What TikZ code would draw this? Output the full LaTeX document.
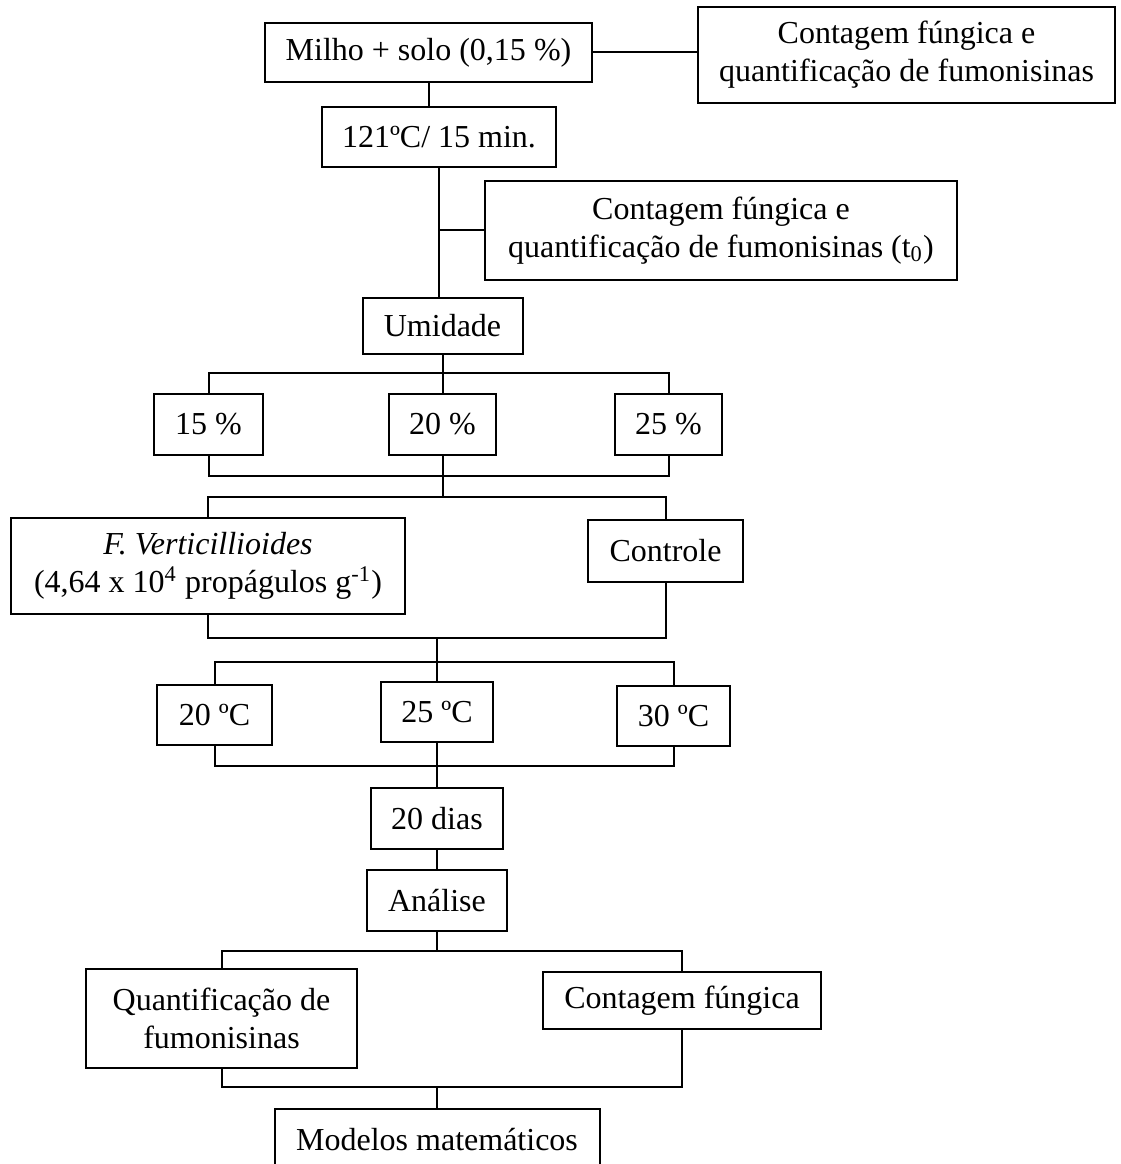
\documentclass[tikz,border=0pt]{standalone}
\usepackage{fontspec}
\setmainfont{Liberation Serif}
\usetikzlibrary{positioning}

\begin{document}
\begin{tikzpicture}[x=0.4pt, y=-0.4pt,
        box/.style={draw, line width=0.8pt, inner sep=0pt, align=center,
            font=\fontsize{12.8}{15.2}\selectfont},
        sz/.style 2 args={minimum width=#1*0.4pt, minimum height=#2*0.4pt},
        link/.style={line width=0.8pt}]
        \useasboundingbox (0,0) rectangle (1120,1164);
        \clip (0,0) rectangle (1120,1164);

        % Top: sample and sterilisation
        \node[box, sz={327}{59}] (milho) at (428.5,52.5) {Milho + solo (0,15 \%)};
        \node[box, sz={417}{96}] (cont1) at (906.5,55) {Contagem fúngica e\\quantificação de fumonisinas};
        \node[box, sz={234}{60}] (auto) at (439,137) {121ºC/ 15 min.};
        \node[box, sz={472}{99}] (cont0) at (721,230.5) {Contagem fúngica e\\quantificação de fumonisinas (t\textsubscript{0})};
        \node[box, sz={160}{56}] (umidade) at (442.5,326) {Umidade};

        \draw[link] (milho.east) -- (milho.east -| cont1.west);
        \draw[link] (milho.south) -- (milho.south |- auto.north);
        \draw[link] (auto.south) -- (auto.south |- umidade.north);
        \draw[link] (cont0.west) -- (cont0.west -| auto.south);

        % Moisture levels
        \node[box, sz={109}{61}] (u15) at (208.5,424.5) {15 \%};
        \node[box, sz={107}{61}] (u20) at (442.5,424.5) {20 \%};
        \node[box, sz={107}{61}] (u25) at (668.5,424.5) {25 \%};
        \coordinate (j1) at (442.5,373);
        \coordinate (j2) at (442.5,476);
        \draw[link] (umidade.south) -- (j1) -- (u20.north);
        \draw[link] (u15.north) |- (j1) -| (u25.north);
        \draw[link] (u15.south) |- (j2) -| (u25.south);
        \draw[link] (u20.south) -- (j2);

        % Inoculation
        \node[box, sz={394}{96}] (fvert) at (208,566) {\textit{F. Verticillioides}\\(4,64 x 10\textsuperscript{4} propágulos g\textsuperscript{-1})};
        \node[box, sz={155}{62}] (controle) at (665.5,551) {Controle};
        \coordinate (j3) at (442.5,497);
        \coordinate (j4) at (437,638);
        \draw[link] (j2) -- (j3);
        \draw[link] (fvert.north) |- (j3) -| (controle.north);
        \draw[link] (fvert.south) |- (j4) -| (controle.south);

        % Temperatures
        \node[box, sz={115}{60}] (t20) at (214.5,715) {20 ºC};
        \node[box, sz={112}{60}] (t25) at (437,712) {25 ºC};
        \node[box, sz={113}{60}] (t30) at (673.5,716) {30 ºC};
        \coordinate (j5) at (437,662);
        \coordinate (j6) at (437,766);
        \draw[link] (j4) -- (j5) -- (t25.north);
        \draw[link] (t20.north) |- (j5) -| (t30.north);
        \draw[link] (t20.south) |- (j6) -| (t30.south);
        \draw[link] (t25.south) -- (j6);

        % Incubation and analysis
        \node[box, sz={132}{61}] (dias) at (437,818.5) {20 dias};
        \node[box, sz={140}{61}] (analise) at (437,900.5) {Análise};
        \draw[link] (j6) -- (dias.north);
        \draw[link] (dias) -- (analise);

        \node[box, sz={271}{99}] (quant) at (221.5,1018.5) {Quantificação de\\fumonisinas};
        \node[box, sz={278}{57}] (contagem) at (682,1000.5) {Contagem fúngica};
        \node[box, sz={325}{62}] (modelos) at (437,1140) {Modelos matemáticos};
        \coordinate (j7) at (437,951);
        \coordinate (j8) at (437,1087);
        \draw[link] (analise.south) -- (j7);
        \draw[link] (quant.north) |- (j7) -| (contagem.north);
        \draw[link] (quant.south) |- (j8) -| (contagem.south);
        \draw[link] (j8) -- (modelos.north);
    \end{tikzpicture}
\end{document}
